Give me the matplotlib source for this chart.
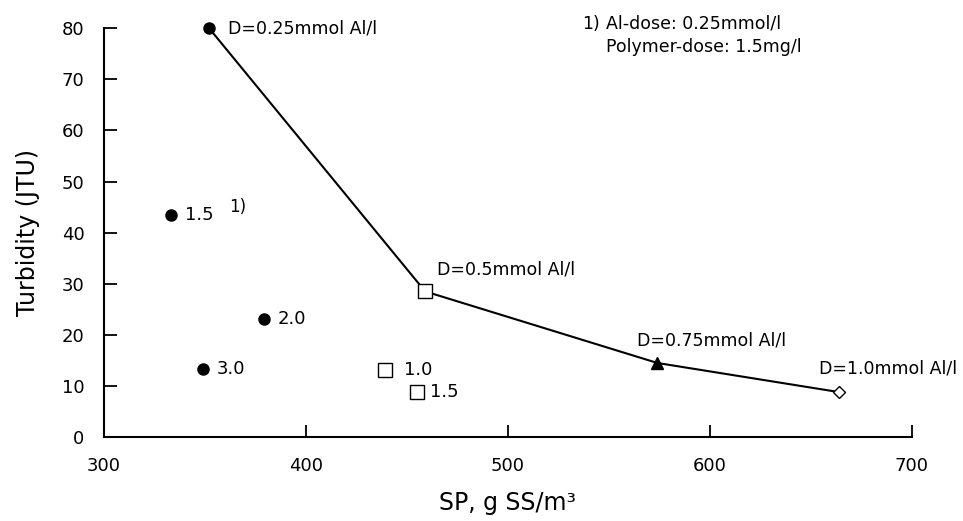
import matplotlib
matplotlib.use("Agg")
import matplotlib.pyplot as plt

plt.rcParams['font.family'] = ['DejaVu Sans']

# dose series (line)
dose_labels = ["D=0.25mmol Al/l", "D=0.5mmol Al/l", "D=0.75mmol Al/l", "D=1.0mmol Al/l"]
dose_sp = [352, 459, 574, 664]
dose_turb = [80, 28.5, 14.5, 8.8]
dose_markers = ["o", "s", "^", "D"]
dose_filled = [True, False, True, False]

# polymer dose points at 0.25 mmol Al/l
poly_sp = [333, 379, 349]
poly_turb = [43.4, 23.1, 13.3]
poly_labels = ["1.5", "2.0", "3.0"]

# polymer points at 0.5 mmol Al/l
sq_sp = [439, 455]
sq_turb = [13.1, 8.8]
sq_labels = ["1.0", "1.5"]

fig = plt.figure(figsize=(9.63, 5.21), dpi=100)
ax = fig.add_axes([0.108, 0.161, 0.839, 0.785])

ax.plot(dose_sp, dose_turb, color="black", lw=1.5, zorder=2)
sizes = {"o": 8, "s": 9.5, "^": 8, "D": 6}
for x, y, m, f in zip(dose_sp, dose_turb, dose_markers, dose_filled):
    ax.plot([x], [y], marker=m, ms=sizes[m], color="black",
            mfc="black" if f else "white", mec="black", mew=1.0,
            zorder=3, clip_on=False)

offs = [(14, 0), (8.5, 16), (-14.5, 16.5), (-14.5, 17)]
for x, y, t, o in zip(dose_sp, dose_turb, dose_labels, offs):
    ax.annotate(t, (x, y), xytext=o, textcoords="offset points",
                fontsize=12.5, ha="left", va="center")

ax.plot(poly_sp, poly_turb, "o", ms=8, color="black", ls="none")
for x, y, t in zip(poly_sp, poly_turb, poly_labels):
    ax.annotate(t, (x, y), xytext=(10, 0), textcoords="offset points",
                fontsize=13, ha="left", va="center")
ax.annotate("1)", (poly_sp[0], poly_turb[0]), xytext=(42, 6), textcoords="offset points",
            fontsize=12, ha="left", va="center")

ax.plot(sq_sp, sq_turb, "s", ms=9.5, mfc="white", mec="black", mew=1.0, ls="none")
for x, y, t, dx in zip(sq_sp, sq_turb, sq_labels, [14, 9]):
    ax.annotate(t, (x, y), xytext=(dx, 0), textcoords="offset points",
                fontsize=13, ha="left", va="center")

# footnote
fig.text(582 / 963, 1 - 24 / 521, "1)", fontsize=12.5, ha="left", va="center")
fig.text(606 / 963, 1 - 24 / 521, "Al-dose: 0.25mmol/l", fontsize=12.5, ha="left", va="center")
fig.text(606 / 963, 1 - 47 / 521, "Polymer-dose: 1.5mg/l", fontsize=12.5, ha="left", va="center")

ax.set_xlim(300, 700)
ax.set_ylim(0, 80)
ax.set_xticks([300, 400, 500, 600, 700])
ax.set_yticks(range(0, 81, 10))
ax.spines["top"].set_visible(False)
ax.spines["right"].set_visible(False)
ax.spines["left"].set_linewidth(1.5)
ax.spines["bottom"].set_linewidth(1.5)
ax.tick_params(direction="in", length=9, width=1.3, labelsize=13)
ax.tick_params(axis="x", pad=14)
ax.tick_params(axis="y", pad=14)
ax.xaxis.get_major_ticks()[0].tick1line.set_visible(False)
ax.yaxis.get_major_ticks()[0].tick1line.set_visible(False)

ax.set_xlabel("SP, g SS/m³", fontsize=17, labelpad=12)
ax.set_ylabel("Turbidity (JTU)", fontsize=17, labelpad=16)

fig.savefig("out.png", dpi=100)
